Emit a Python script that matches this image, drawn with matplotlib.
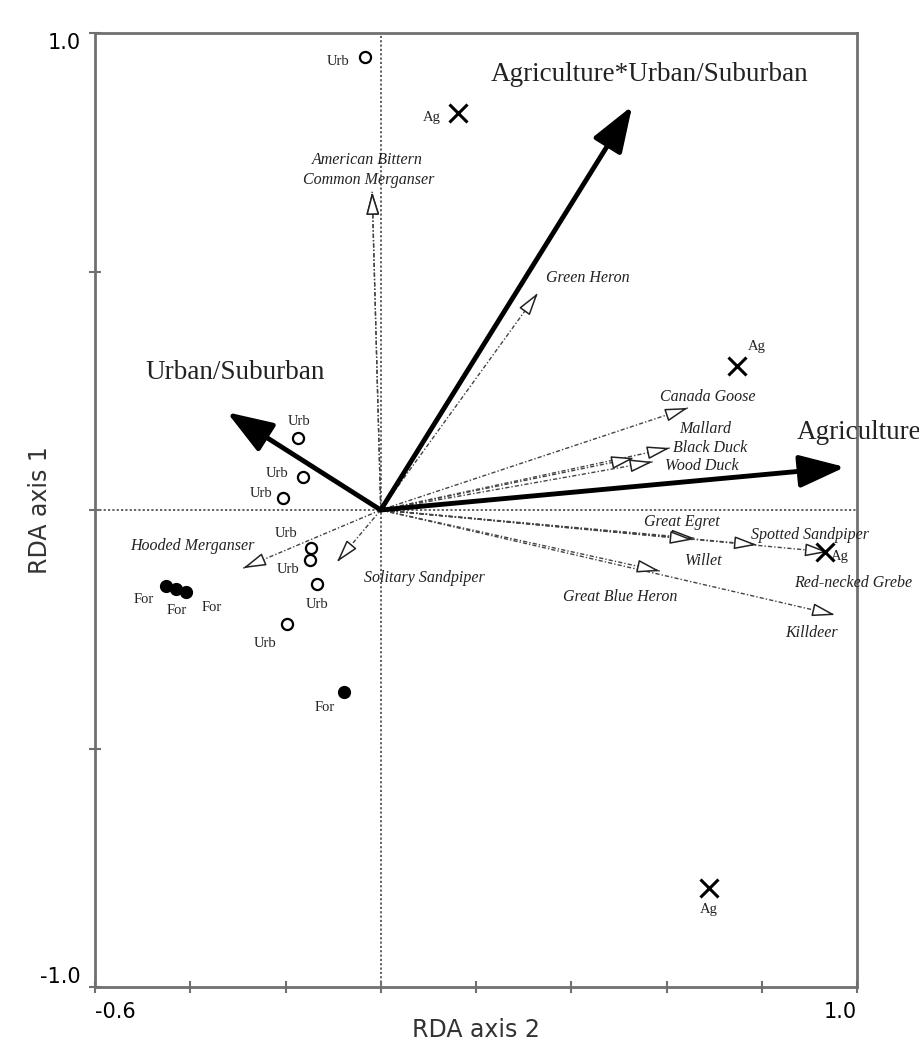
import matplotlib
matplotlib.use("Agg")
import matplotlib.pyplot as plt

# species scores (RDA axis 2, RDA axis 1)
species = ["American Bittern", "Common Merganser", "Green Heron", "Canada Goose",
           "Mallard", "Black Duck", "Wood Duck", "Great Egret", "Willet",
           "Spotted Sandpiper", "Red-necked Grebe", "Great Blue Heron", "Killdeer",
           "Hooded Merganser", "Solitary Sandpiper"]
sp_x = [-0.018, -0.018, 0.330, 0.645, 0.532, 0.607, 0.571, 0.658, 0.655,
        0.790, 0.939, 0.586, 0.954, -0.289, -0.092]
sp_y = [0.667, 0.667, 0.455, 0.214, 0.109, 0.130, 0.101, -0.059, -0.062,
        -0.073, -0.088, -0.128, -0.220, -0.122, -0.109]

# environmental variables
env = ["Agriculture", "Urban/Suburban", "Agriculture*Urban/Suburban"]
env_x = [0.975, -0.323, 0.528]
env_y = [0.090, 0.205, 0.847]

# sites
site_type = ["Urb"] * 8 + ["For"] * 4 + ["Ag"] * 4
site_x = [-0.033, -0.174, -0.163, -0.205, -0.146, -0.148, -0.134, -0.197,
          -0.451, -0.430, -0.409, -0.077,
          0.162, 0.748, 0.933, 0.689]
site_y = [0.950, 0.151, 0.069, 0.025, -0.080, -0.105, -0.155, -0.239,
          -0.159, -0.166, -0.172, -0.382,
          0.832, 0.302, -0.088, -0.792]

# label offsets in pixels (layout only)
sp_off = [(-5, 32), (-3, 12), (50, 15), (20, 11), (71, 29), (40, 0), (49, -4),
          (-12, 16), (11, -21), (53, 10), (25, -31), (-40, -26), (-24, -18),
          (-51, 22), (87, -16)]
env_off = [(-48, 35, "left"), (8, 40, "center"), (17, 31, "center")]
site_off = [(-27, -5), (1, 16), (-26, 4), (-22, 5), (-25, 15), (-22, -9), (0, -21),
            (-22, -19), (-22, -14), (1, -21), (26, -15), (-19, -15),
            (-26, -4), (20, 19), (15, -5), (0, -22)]

fig = plt.figure(figsize=(9.19, 10.52), dpi=100)
ax = fig.add_axes([95 / 919, 65 / 1052, 762 / 919, 954 / 1052])
ax.set_xlim(-0.6, 1.0)
ax.set_ylim(-1.0, 1.0)

for s in ax.spines.values():
    s.set_color("#707070")
    s.set_linewidth(2)

ax.set_xticks([-0.6, -0.4, -0.2, 0.0, 0.2, 0.4, 0.6, 0.8, 1.0])
ax.set_xticklabels(["-0.6", "", "", "", "", "", "", "", "1.0"])
ax.set_yticks([-1.0, -0.5, 0.0, 0.5, 1.0])
ax.set_yticklabels(["-1.0", "", "", "", "1.0"])
ax.tick_params(direction="inout", length=9, width=1.5, color="#707070",
               labelsize=15, pad=6)
xl = ax.get_xticklabels()
xl[0].set_ha("left")
xl[-1].set_ha("right")
yl = ax.get_yticklabels()
yl[0].set_va("bottom")
yl[-1].set_va("top")

fig.text(476 / 919, 1 - 1030 / 1052, "RDA axis 2", fontsize=17,
         ha="center", va="center", color="#333333")
fig.text(40 / 919, 1 - 510 / 1052, "RDA axis 1", fontsize=17, rotation=90,
         ha="center", va="center", color="#333333")

# zero lines
ax.axhline(0, color="#555555", lw=1.3, ls=(0, (1.2, 1.2)), zorder=1)
ax.axvline(0, color="#555555", lw=1.3, ls=(0, (1.2, 1.2)), zorder=1)

serif = "Liberation Serif"

# species arrows
for name, x, y, (dx, dy) in zip(species, sp_x, sp_y, sp_off):
    ax.plot([0, x], [0, y], color="#444444", lw=1.0, ls=(0, (3, 1.5, 1, 1.5)), zorder=2)
    ax.annotate("", xy=(x, y), xytext=(x * 0.96, y * 0.96),
                arrowprops=dict(arrowstyle="-|>,head_length=1.4,head_width=0.4",
                                mutation_scale=10, fc="white", ec="#222222", lw=1.1,
                                shrinkA=0, shrinkB=0), zorder=3)
    ax.annotate(name, xy=(x, y), xytext=(dx, dy), textcoords="offset pixels",
                ha="center", va="center", fontsize=11.5, style="italic",
                family=serif, color="#222222", annotation_clip=False)

# environmental arrows
for name, x, y, (dx, dy, ha) in zip(env, env_x, env_y, env_off):
    ax.annotate("", xy=(x, y), xytext=(0, 0),
                arrowprops=dict(arrowstyle="-|>,head_length=1.4,head_width=0.5",
                                mutation_scale=20, color="black", lw=3.5,
                                shrinkA=0, shrinkB=0), zorder=4)
    ax.annotate(name, xy=(x, y), xytext=(dx, dy), textcoords="offset pixels",
                ha=ha, va="center", fontsize=19.5, family=serif,
                color="#222222", annotation_clip=False)

# sites
for t, x, y, (dx, dy) in zip(site_type, site_x, site_y, site_off):
    if t == "Urb":
        ax.plot(x, y, "o", ms=8, mfc="white", mec="black", mew=1.6, zorder=5)
    elif t == "For":
        ax.plot(x, y, "o", ms=8.5, mfc="black", mec="black", zorder=5)
    else:
        ax.plot(x, y, "x", ms=13, mec="black", mew=2.2, zorder=5)
    ax.annotate(t, xy=(x, y), xytext=(dx, dy), textcoords="offset pixels",
                ha="center", va="center", fontsize=10.5, family=serif,
                color="#222222", annotation_clip=False)

fig.savefig("out.png", dpi=100)
